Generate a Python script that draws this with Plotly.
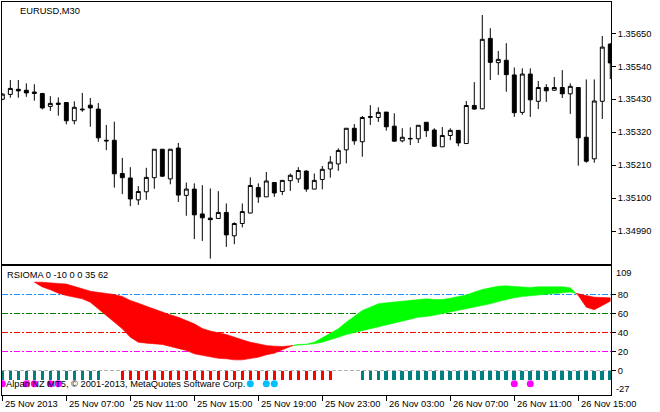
import plotly.graph_objects as go

# ---------------- data ----------------
bars = list(range(77))
open_ = [1.35430, 1.35446, 1.35463, 1.35460, 1.35454, 1.35449, 1.35406, 1.35417, 1.35419, 1.35358,
         1.35397, 1.35410, 1.35397, 1.35293, 1.35293, 1.35182, 1.35167, 1.35094, 1.35121, 1.35168,
         1.35263, 1.35164, 1.35267, 1.35109, 1.35130, 1.35047, 1.35033, 1.35032, 1.35052, 1.34974,
         1.35015, 1.35050, 1.35135, 1.35104, 1.35152, 1.35122, 1.35158, 1.35164, 1.35190, 1.35130,
         1.35162, 1.35197, 1.35214, 1.35261, 1.35333, 1.35288, 1.35372, 1.35369, 1.35387, 1.35340,
         1.35291, 1.35299, 1.35298, 1.35353, 1.35327, 1.35271, 1.35309, 1.35326, 1.35282, 1.35409,
         1.35398, 1.35633, 1.35552, 1.35560, 1.35511, 1.35386, 1.35514, 1.35423, 1.35469, 1.35460,
         1.35469, 1.35448, 1.35469, 1.35303, 1.35231, 1.35423, 1.35614]
high = [1.35450, 1.35494, 1.35494, 1.35483, 1.35480, 1.35451, 1.35440, 1.35436, 1.35419, 1.35423,
        1.35451, 1.35434, 1.35417, 1.35344, 1.35355, 1.35234, 1.35203, 1.35140, 1.35201, 1.35263,
        1.35263, 1.35263, 1.35284, 1.35152, 1.35149, 1.35143, 1.35132, 1.35123, 1.35082, 1.35019,
        1.35082, 1.35169, 1.35149, 1.35187, 1.35152, 1.35159, 1.35182, 1.35203, 1.35193, 1.35182,
        1.35207, 1.35240, 1.35266, 1.35333, 1.35347, 1.35374, 1.35410, 1.35403, 1.35387, 1.35383,
        1.35333, 1.35336, 1.35343, 1.35353, 1.35333, 1.35337, 1.35333, 1.35326, 1.35424, 1.35487,
        1.35711, 1.35667, 1.35591, 1.35617, 1.35536, 1.35533, 1.35533, 1.35491, 1.35480, 1.35504,
        1.35527, 1.35483, 1.35469, 1.35496, 1.35496, 1.35641, 1.35617]
low = [1.35427, 1.35435, 1.35435, 1.35438, 1.35425, 1.35396, 1.35391, 1.35375, 1.35346, 1.35346,
       1.35388, 1.35338, 1.35288, 1.35260, 1.35135, 1.35113, 1.35073, 1.35077, 1.35094, 1.35131,
       1.35171, 1.35146, 1.35087, 1.35041, 1.34963, 1.34957, 1.34898, 1.35032, 1.34937, 1.34946,
       1.35002, 1.35049, 1.35084, 1.35104, 1.35104, 1.35110, 1.35124, 1.35151, 1.35121, 1.35129,
       1.35129, 1.35168, 1.35191, 1.35216, 1.35278, 1.35238, 1.35344, 1.35354, 1.35325, 1.35288,
       1.35286, 1.35277, 1.35284, 1.35304, 1.35271, 1.35271, 1.35293, 1.35273, 1.35282, 1.35395,
       1.35396, 1.35494, 1.35511, 1.35455, 1.35371, 1.35378, 1.35371, 1.35397, 1.35421, 1.35458,
       1.35434, 1.35381, 1.35208, 1.35218, 1.35218, 1.35364, 1.35497]
close = [1.35447, 1.35466, 1.35458, 1.35451, 1.35449, 1.35401, 1.35416, 1.35413, 1.35358, 1.35403,
         1.35395, 1.35401, 1.35301, 1.35291, 1.35181, 1.35168, 1.35097, 1.35122, 1.35169, 1.35263,
         1.35173, 1.35263, 1.35110, 1.35130, 1.35044, 1.35034, 1.35028, 1.35052, 1.34977, 1.35015,
         1.35055, 1.35142, 1.35104, 1.35157, 1.35117, 1.35159, 1.35176, 1.35192, 1.35130, 1.35159,
         1.35196, 1.35220, 1.35259, 1.35333, 1.35291, 1.35369, 1.35370, 1.35386, 1.35338, 1.35290,
         1.35303, 1.35298, 1.35343, 1.35325, 1.35273, 1.35309, 1.35326, 1.35284, 1.35409, 1.35397,
         1.35630, 1.35553, 1.35563, 1.35512, 1.35385, 1.35514, 1.35428, 1.35469, 1.35458, 1.35469,
         1.35448, 1.35473, 1.35301, 1.35223, 1.35424, 1.35604, 1.35551]

# RSIOMA fast line and its signal MA
rsi = [None, None, None, None, 93.0, 88.0, 84.9, 81.4, 78.9, 77.2,
       75.4, 71.9, 64.9, 57.9, 50.9, 43.9, 35.1, 29.8, 28.8, 28.1,
       27.4, 25.3, 22.8, 21.1, 17.5, 16.0, 14.5, 12.8, 12.3, 11.2,
       11.2, 12.3, 14.0, 16.5, 18.2, 21.8, 25.8, 27.4, 27.7, 29.8,
       34.4, 39.3, 43.9, 50.9, 56.8, 63.2, 66.7, 70.2, 71.2, 71.9,
       72.6, 73.7, 74.7, 75.4, 74.7, 74.7, 76.1, 77.9, 79.6, 82.5,
       85.3, 87.0, 88.8, 89.1, 88.4, 87.7, 87.4, 88.1, 88.1, 88.1,
       88.1, 87.0, 78.9, 66.7, 63.9, 68.4, 73.0]
ma = [None, None, None, None, 93.0, 93.0, 92.5, 91.5, 91.0, 88.4,
      86.0, 83.5, 82.1, 81.1, 80.0, 77.9, 73.7, 70.9, 67.7, 64.2,
      61.4, 58.6, 56.1, 52.6, 49.1, 44.2, 41.5, 39.8, 37.9, 35.1,
      32.3, 29.8, 28.1, 26.3, 25.6, 25.3, 26.0, 27.0, 27.4, 28.1,
      29.8, 32.3, 35.1, 37.9, 39.3, 41.4, 43.2, 45.6, 47.4, 49.8,
      52.0, 54.0, 56.1, 56.8, 58.2, 59.6, 61.4, 63.2, 64.9, 66.7,
      68.4, 70.2, 72.6, 74.7, 76.5, 77.9, 78.6, 79.6, 80.4, 81.1,
      81.8, 82.5, 80.7, 78.9, 77.2, 76.5, 76.5]

# trend histogram: 'T' teal, 'R' red, '' none
hist_state = ['T', 'T', 'T', 'T', 'T', 'T', 'T', 'T', 'T', 'T',
              'T', 'T', 'T', '', '', 'R', 'R', 'R', 'R', 'R',
              'R', 'R', 'R', 'R', 'R', 'R', 'R', 'R', 'R', 'R',
              'R', 'R', 'R', 'R', 'R', 'R', 'R', 'R', 'R', 'R',
              'R', 'R', '', '', '', 'T', 'T', 'T', 'T', 'T',
              'T', 'T', 'T', 'T', 'T', 'T', 'T', 'T', 'T', 'T',
              'T', 'T', 'T', 'T', 'T', 'T', 'T', 'T', 'T', 'T',
              'T', 'T', 'T', 'T', 'T', 'T', 'T']
hist_level = -10
magenta_dots = [0, 3, 4, 6, 7, 64, 66]
blue_dots = [31, 33, 34]
dot_level = -14

levels = [80, 60, 40, 20]
level_colors = ['#1E90FF', '#008000', '#FF0000', '#FF00FF']

price_ticks = [1.34990, 1.35100, 1.35210, 1.35320, 1.35430, 1.35540, 1.35650]
ind_ticks = [0, 20, 40, 60, 80]
ind_max_label, ind_min_label = '109', '-27'
time_tick_bars = [0, 8, 16, 24, 32, 40, 48, 56, 64, 72]
time_tick_labels = ["25 Nov 2013", "25 Nov 07:00", "25 Nov 11:00", "25 Nov 15:00", "25 Nov 19:00",
                    "25 Nov 23:00", "26 Nov 03:00", "26 Nov 07:00", "26 Nov 11:00", "26 Nov 15:00"]

FONT = dict(family="Liberation Sans, Arial, sans-serif", size=9.3, color="black")

fig = go.Figure()

# candles
fig.add_trace(go.Candlestick(
    x=bars, open=open_, high=high, low=low, close=close,
    xaxis='x2', yaxis='y',
    increasing=dict(fillcolor='white', line=dict(color='black', width=1)),
    decreasing=dict(fillcolor='black', line=dict(color='black', width=1)),
    whiskerwidth=0, showlegend=False, hoverinfo='skip'))

# filling between rsi and ma, coloured by sign
valid = [i for i in bars if rsi[i] is not None]
runs = []
cur = None
for k, i in enumerate(valid):
    d = rsi[i] - ma[i]
    s = 1 if d > 0 else (-1 if d < 0 else 0)
    if cur is None:
        cur = {'sign': s, 'x': [i], 'a': [rsi[i]], 'b': [ma[i]]}
        continue
    if cur['sign'] == 0:
        cur['sign'] = s
    if s != 0 and s != cur['sign']:
        j = valid[k - 1]
        d0 = rsi[j] - ma[j]
        t = d0 / (d0 - d)
        xc = j + t
        yc = rsi[j] + t * (rsi[i] - rsi[j])
        cur['x'].append(xc); cur['a'].append(yc); cur['b'].append(yc)
        runs.append(cur)
        cur = {'sign': s, 'x': [xc, i], 'a': [yc, rsi[i]], 'b': [yc, ma[i]]}
    else:
        cur['x'].append(i); cur['a'].append(rsi[i]); cur['b'].append(ma[i])
runs.append(cur)

for r in runs:
    col = '#00FF00' if r['sign'] > 0 else '#FF0000'
    fig.add_trace(go.Scatter(
        x=r['x'] + r['x'][::-1], y=r['a'] + r['b'][::-1],
        fill='toself', fillcolor=col, mode='lines', line=dict(width=0.6, color=col),
        xaxis='x', yaxis='y2', showlegend=False, hoverinfo='skip'))

# histogram
hx = [i for i in bars if hist_state[i]]
hc = ['#008080' if hist_state[i] == 'T' else '#FF0000' for i in hx]
fig.add_trace(go.Bar(x=hx, y=[hist_level] * len(hx), marker=dict(color=hc, line=dict(width=0)),
                     width=0.45, xaxis='x', yaxis='y2', showlegend=False, hoverinfo='skip'))

# dots
fig.add_trace(go.Scatter(x=magenta_dots, y=[dot_level] * len(magenta_dots), mode='markers',
                         marker=dict(color='#FF00FF', size=7, line=dict(width=0)),
                         xaxis='x', yaxis='y2', showlegend=False, hoverinfo='skip'))
fig.add_trace(go.Scatter(x=blue_dots, y=[dot_level] * len(blue_dots), mode='markers',
                         marker=dict(color='#00BFFF', size=7, line=dict(width=0)),
                         xaxis='x', yaxis='y2', showlegend=False, hoverinfo='skip'))

shapes = []
for lv, c in zip(levels, level_colors):
    shapes.append(dict(type='line', xref='x domain', yref='y2', x0=0, x1=1, y0=lv, y1=lv,
                       line=dict(color=c, width=1, dash='6px,2px,2px,2px'), layer='below'))
shapes.append(dict(type='line', xref='x domain', yref='y2', x0=0, x1=1, y0=0, y1=0,
                   line=dict(color='#B4B4B4', width=1, dash='4px,2px'), layer='above'))

annotations = []
for b, lab in zip(time_tick_bars, time_tick_labels):
    annotations.append(dict(x=b, y=0, xref='x', yref='paper', text=lab, showarrow=False,
                            xanchor='left', yanchor='top', yshift=-2, xshift=1, font=FONT))
annotations.append(dict(x=1, y=1, xref='paper', yref='y2 domain', text=ind_max_label, showarrow=False,
                        xanchor='left', yanchor='top', xshift=3, yshift=0, font=FONT))
annotations.append(dict(x=1, y=0, xref='paper', yref='y2 domain', text=ind_min_label, showarrow=False,
                        xanchor='left', yanchor='bottom', xshift=3, yshift=-1, font=FONT))
annotations.append(dict(x=0, y=1, xref='paper', yref='paper', text='EURUSD,M30', showarrow=False,
                        xanchor='left', yanchor='top', xshift=16, yshift=-2, font=FONT))
annotations.append(dict(x=0, y=1, xref='paper', yref='y2 domain', text='RSIOMA 0 -10 0 0 35 62',
                        showarrow=False, xanchor='left', yanchor='top', xshift=3, yshift=-2, font=FONT))
annotations.append(dict(x=0, y=dot_level, xref='paper', yref='y2',
                        text='Alpari NZ MT5, © 2001-2013, MetaQuotes Software Corp.',
                        showarrow=False, xanchor='left', yanchor='middle', xshift=2, font=FONT))

W, H = 660, 412
ml, mr, mt, mb = 2, 49, 2, 17
ph = H - mt - mb
main_bottom = (H - mb - 264) / ph
ind_top = (H - mb - 266) / ph

xr = [-0.04, 76.09]
fig.update_layout(
    width=W, height=H, margin=dict(l=ml, r=mr, t=mt, b=mb),
    paper_bgcolor='white', plot_bgcolor='white', font=FONT, bargap=0,
    showlegend=False, shapes=shapes, annotations=annotations,
    xaxis=dict(domain=[0, 1], range=xr, anchor='y2', showgrid=False, zeroline=False,
               showline=True, mirror=True, linecolor='black', linewidth=1,
               tickvals=time_tick_bars, ticks='outside', ticklen=5, tickcolor='black',
               showticklabels=False, fixedrange=True),
    xaxis2=dict(domain=[0, 1], range=xr, anchor='y', matches='x', showgrid=False, zeroline=False,
                showline=True, mirror=True, linecolor='black', linewidth=1,
                showticklabels=False, ticks='', rangeslider=dict(visible=False)),
    yaxis=dict(domain=[main_bottom, 1], range=[1.348799, 1.357545], side='right', anchor='x2',
               showgrid=False, zeroline=False, showline=True, mirror=True, linecolor='black',
               tickvals=price_ticks, ticktext=['%.5f' % v for v in price_ticks],
               ticks='outside', ticklen=4, tickcolor='black'),
    yaxis2=dict(domain=[0, ind_top], range=[-25.79, 110.0], side='right', anchor='x',
                showgrid=False, zeroline=False, showline=True, mirror=True, linecolor='black',
                tickvals=ind_ticks, ticks='outside', ticklen=4, tickcolor='black'),
)

fig.write_html("out.html", config={'displayModeBar': False},
               post_script="document.body.style.margin='0px';")
